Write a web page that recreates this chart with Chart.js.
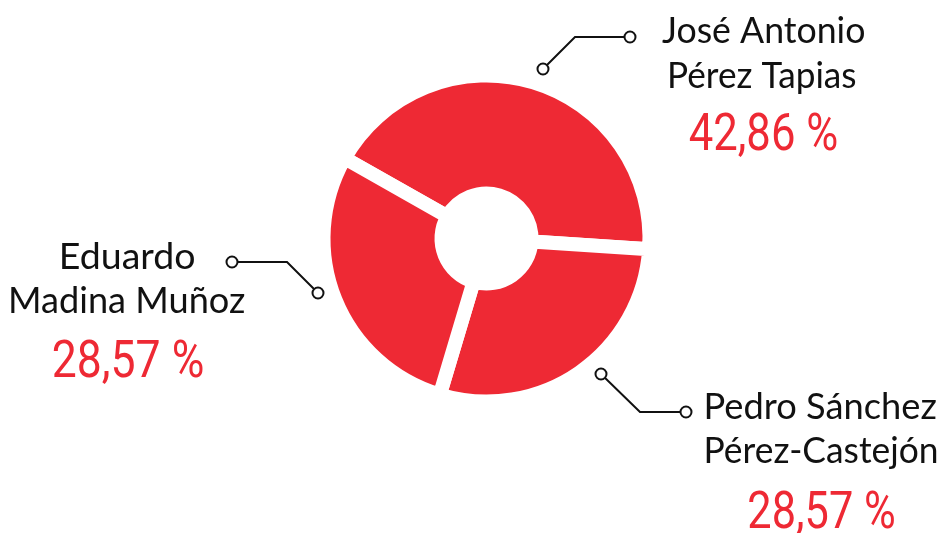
<!DOCTYPE html>
<html><head><meta charset="utf-8">
<script src="https://cdn.jsdelivr.net/npm/chart.js@4/dist/chart.umd.min.js"></script>
<style>html,body{margin:0;padding:0;background:#fff;overflow:hidden}</style>
</head><body>
<canvas id="c" width="944" height="533"></canvas>
<script>
// ---- data ----
const categories = ['José Antonio Pérez Tapias', 'Pedro Sánchez Pérez-Castejón', 'Eduardo Madina Muñoz'];
const nameLines = [['José Antonio', 'Pérez Tapias'], ['Pedro Sánchez', 'Pérez-Castejón'], ['Eduardo', 'Madina Muñoz']];
const shares = [42.86, 28.57, 28.57];

const RED = '#EE2934';

// label layout, relative to doughnut centre
const labelLayout = [
  { pts: [[56.5,-169.5],[88.5,-201.5],[143.5,-201.5]], cx: 276.5, base: [-195.5,-150.5,-88.5], w: [202,186,147] },
  { pts: [[114.5,135.5],[153.5,173.5],[199.5,173.5]], cx: 335, base: [180.5,224.5,289.5], w: [230,230,145] },
  { pts: [[-168.5,54.5],[-199.5,23.5],[-254.5,23.5]], cx: -358.5, base: [30.5,74.5,138.5], w: [132,234,149] }
];

function fmt(v){ return v.toFixed(2).replace('.', ',') + ' %'; }

function drawFit(ctx, text, cx, baseline, width){
  ctx.textAlign = 'left';
  ctx.textBaseline = 'alphabetic';
  const m = ctx.measureText(text);
  const l = m.actualBoundingBoxLeft, r = m.actualBoundingBoxRight;
  const s = width / (l + r);
  ctx.save();
  ctx.translate(cx, baseline);
  ctx.scale(s, 1);
  ctx.fillText(text, (l - r) / 2, 0);
  ctx.restore();
}

const labelsPlugin = {
  id: 'calloutLabels',
  afterDraw(chart){
    const ctx = chart.ctx;
    const arcs = chart.getDatasetMeta(0).data;
    const cx = arcs[0].x, cy = arcs[0].y;
    labelLayout.forEach((L, i) => {
      ctx.save();
      ctx.strokeStyle = '#111';
      ctx.lineWidth = 2;
      ctx.lineJoin = 'miter';
      ctx.beginPath();
      L.pts.forEach((p, k) => { if (k === 0) ctx.moveTo(cx+p[0], cy+p[1]); else ctx.lineTo(cx+p[0], cy+p[1]); });
      ctx.stroke();
      [L.pts[0], L.pts[L.pts.length-1]].forEach(p => {
        ctx.beginPath();
        ctx.arc(cx+p[0], cy+p[1], 5.5, 0, Math.PI*2);
        ctx.fillStyle = '#fff';
        ctx.fill();
        ctx.stroke();
      });
      ctx.fillStyle = '#111';
      ctx.font = '400 36px Lato, "Open Sans", sans-serif';
      nameLines[i].forEach((t, k) => drawFit(ctx, t, cx + L.cx, cy + L.base[k], L.w[k]));
      ctx.fillStyle = RED;
      ctx.font = '400 52px Roboto, "Liberation Sans", sans-serif';
      drawFit(ctx, fmt(shares[i]), cx + L.cx, cy + L.base[2], L.w[2]);
      ctx.restore();
    });
  }
};

new Chart(document.getElementById('c'), {
  type: 'doughnut',
  data: {
    labels: categories,
    datasets: [{
      data: shares,
      backgroundColor: RED,
      borderColor: '#ffffff',
      borderWidth: 14,
      borderJoinStyle: 'miter',
      hoverOffset: 0
    }]
  },
  options: {
    responsive: false,
    animation: false,
    events: [],
    rotation: -60.5,
    radius: 163,
    cutout: '27.6%',
    layout: { padding: { left: 29, right: 0, top: 0, bottom: 56 } },
    plugins: { legend: { display: false }, tooltip: { enabled: false } }
  },
  plugins: [labelsPlugin]
});
</script>
</body></html>
